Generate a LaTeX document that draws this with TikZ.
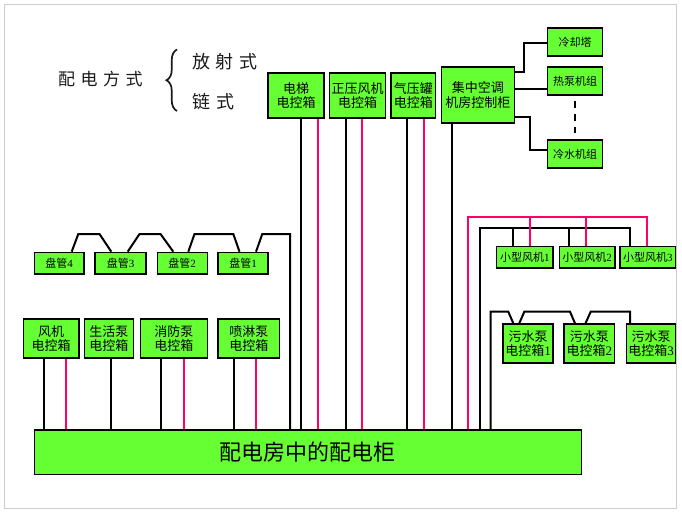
\documentclass[tikz,border=0pt]{standalone}
\usepackage{fontspec}
\setmainfont{Noto Sans CJK SC}
\newfontfamily\latn{Liberation Serif}
\usetikzlibrary{decorations.pathreplacing}
\definecolor{boxg}{HTML}{66FF33}
\definecolor{pinkl}{HTML}{FF0066}
\begin{document}
\begin{tikzpicture}[x=1pt,y=-1pt,
 bx/.style={draw=black,fill=boxg,line width=1.4pt,inner sep=0pt,anchor=north west,align=center},
 big/.style={bx,font=\fontsize{13}{14.5}\selectfont},
 sml/.style={bx,font=\fontsize{11}{12}\selectfont},
 blk/.style={draw=black,line width=2pt},
 pnk/.style={draw=pinkl,line width=2pt},
 lbl/.style={anchor=west,inner sep=0pt,text=black!90}]
\useasboundingbox (0,0) rectangle (682,514);
\draw[gray!40,line width=1pt] (4.5,4.5) rectangle (676.5,508.5);

% title text
\node[lbl,font=\fontsize{17}{17}\selectfont\addfontfeature{LetterSpace=32}] (pdfs) at (58,79) {配电方式};
\node[lbl,font=\fontsize{18}{18}\selectfont\addfontfeature{LetterSpace=32}] (fss) at (192,62) {放射式};
\node[lbl,font=\fontsize{18}{18}\selectfont\addfontfeature{LetterSpace=36}] (ls) at (192,102) {链式};
\draw[line width=1.7pt,black!90,decorate,decoration={brace,amplitude=10.5pt,aspect=0.5}] (177,111) -- (177,49.5);

% boxes
\node[big,minimum width=55.7pt,minimum height=39pt] (fengji) at (22.6,318.3) {风机\\电控箱};
\node[big,minimum width=49.5pt,minimum height=39pt] (shenghuo) at (83.5,318.3) {生活泵\\电控箱};
\node[big,minimum width=67pt,minimum height=39pt] (xiaofang) at (139.6,318.3) {消防泵\\电控箱};
\node[big,minimum width=61.6pt,minimum height=39pt] (penlin) at (217.4,318.3) {喷淋泵\\电控箱};

\node[sml,minimum width=49.8pt,minimum height=21.7pt] (pg4) at (33.5,251.7) {盘管{\latn 4}};
\node[sml,minimum width=50.9pt,minimum height=21.7pt] (pg3) at (94.4,251.7) {盘管{\latn 3}};
\node[sml,minimum width=50pt,minimum height=21.7pt] (pg2) at (156.5,251.7) {盘管{\latn 2}};
\node[sml,minimum width=49.8pt,minimum height=21.7pt] (pg1) at (217.4,251.7) {盘管{\latn 1}};

\node[big,minimum width=56pt,minimum height=45pt] (dianti) at (267.4,72.3) {电梯\\电控箱};
\node[big,minimum width=56pt,minimum height=45pt] (zhengya) at (329,72.3) {正压风机\\电控箱};
\node[big,minimum width=44.6pt,minimum height=45pt] (qiya) at (390.4,72.3) {气压罐\\电控箱};
\node[big,minimum width=72.5pt,minimum height=56pt] (jizhong) at (441,66.3) {集中空调\\机房控制柜};

\node[sml,minimum width=55pt,minimum height=28pt] (lengque) at (547,27.3) {冷却塔};
\node[sml,minimum width=55pt,minimum height=28pt] (rebeng) at (547,66.3) {热泵机组};
\node[sml,minimum width=55pt,minimum height=28pt] (lengshui) at (547,139.3) {冷水机组};

\node[sml,minimum width=56.3pt,minimum height=21.6pt] (xf1) at (496,245.7) {小型风机{\latn 1}};
\node[sml,minimum width=55.6pt,minimum height=21.6pt] (xf2) at (558.7,245.7) {小型风机{\latn 2}};
\node[sml,minimum width=55.7pt,minimum height=21.6pt] (xf3) at (619.3,245.7) {小型风机{\latn 3}};

\node[big,minimum width=50pt,minimum height=39pt] (ws1) at (502.3,323.3) {污水泵\\电控箱{\latn 1}};
\node[big,minimum width=50.7pt,minimum height=39pt] (ws2) at (563.3,323.3) {污水泵\\电控箱{\latn 2}};
\node[big,minimum width=49.3pt,minimum height=39pt] (ws3) at (625.7,323.3) {污水泵\\电控箱{\latn 3}};

\node[bx,minimum width=547pt,minimum height=44.7pt,font=\fontsize{22}{22}\selectfont] (main) at (33.5,429.3) {配电房中的配电柜};

% vertical feeders
\foreach \n/\x in {fengji/43.7,shenghuo/110.7,xiaofang/161.2,penlin/233.5,dianti/301.2,zhengya/346,qiya/407.1,jizhong/451.9}
  \draw[blk] (\n.south -| \x,0) -- (main.north -| \x,0);
\foreach \n/\x in {fengji/66.3,xiaofang/184.1,penlin/255.7,dianti/317.6,zhengya/361.6,qiya/423.6}
  \draw[pnk] (\n.south -| \x,0) -- (main.north -| \x,0);

% coil chain
\draw[blk] (main.north -| 290.1,0) |- (262.3,234) -- (pg1.north -| 256,0);
\draw[blk] (pg1.north -| 239.5,0) -- (233.3,234) -- (194.5,234) -- (pg2.north -| 188.3,0);
\draw[blk] (pg2.north -| 173.3,0) -- (160.5,234) -- (139.5,234) -- (pg3.north -| 127.7,0);
\draw[blk] (pg3.north -| 111.3,0) -- (99.5,234) -- (78.3,234) -- (pg4.north -| 71.7,0);

% small fans
\draw[blk] (main.north -| 479.8,0) |- (630,228.3) -- (xf3.north -| 630,0);
\draw[blk] (512.7,228.3) -- (xf1.north -| 512.7,0);
\draw[blk] (568.7,228.3) -- (xf2.north -| 568.7,0);
\draw[pnk] (main.north -| 468,0) |- (646.7,216.7) -- (xf3.north -| 646.7,0);
\draw[pnk] (529.7,216.7) -- (xf1.north -| 529.7,0);
\draw[pnk] (585.7,216.7) -- (xf2.north -| 585.7,0);

% sewage pumps
\draw[blk] (main.north -| 490.5,0) |- (508.3,311.7) -- (ws1.north -| 513.3,0);
\draw[blk] (ws1.north -| 519.3,0) -- (524.3,311.7) -- (570,311.7) -- (ws2.north -| 575,0);
\draw[blk] (ws2.north -| 585.5,0) -- (590.7,311.7) -- (630,311.7) -- (ws3.north -| 630,0);

% central AC
\draw[blk] (jizhong.east |- 0,71.7) -- (524,71.7) |- (lengque.west |- 0,43.3);
\draw[blk] (jizhong.east |- 0,89) -- (rebeng.west |- 0,89);
\draw[blk] (jizhong.east |- 0,116.7) -- (529.6,116.7) |- (lengshui.west |- 0,150);
\draw[blk,dash pattern=on 6.5pt off 6.5pt] ([yshift=-5.7pt]rebeng.south) -- ([yshift=6.6pt]lengshui.north);
\end{tikzpicture}
\end{document}
